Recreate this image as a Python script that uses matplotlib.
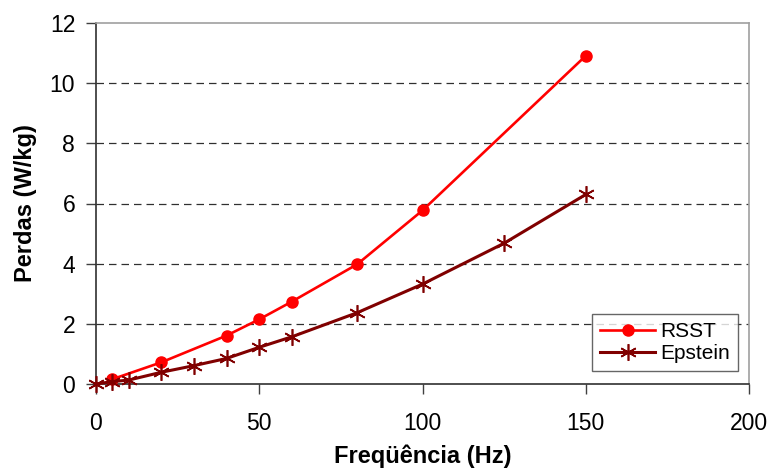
import matplotlib
matplotlib.use("Agg")
import matplotlib.pyplot as plt

plt.rcParams['font.family'] = ['Liberation Sans', 'DejaVu Sans']

# data
f_rsst = [5, 20, 40, 50, 60, 80, 100, 150]
p_rsst = [0.16, 0.72, 1.61, 2.15, 2.74, 3.98, 5.77, 10.91]

f_eps = [0, 5, 10, 20, 30, 40, 50, 60, 80, 100, 125, 150]
p_eps = [0.0, 0.08, 0.13, 0.39, 0.61, 0.85, 1.22, 1.57, 2.37, 3.32, 4.68, 6.3]

x_ticks = [0, 50, 100, 150, 200]
y_ticks = [0, 2, 4, 6, 8, 10, 12]

fig = plt.figure(figsize=(7.74, 4.70), dpi=100)
ax = fig.add_axes([96/774, 1-384/470, (749-96)/774, (384-23)/470])

ax.plot(f_rsst, p_rsst, color='#ff0000', lw=1.9, marker='o', ms=8,
        label='RSST', zorder=3, clip_on=False)
ax.plot(f_eps, p_eps, color='#800000', lw=2.2, marker=(6, 2, 0), ms=12,
        mew=1.2, label='Epstein', zorder=4, clip_on=False)

ax.set_xlim(0, 200)
ax.set_ylim(0, 12)
ax.set_xticks(x_ticks)
ax.set_yticks(y_ticks)
ax.tick_params(labelsize=16.5, length=7, width=1, color='#404040')
ax.tick_params(axis='x', pad=13)
ax.tick_params(axis='y', pad=8)

for y in y_ticks[1:-1]:
    ax.axhline(y, color='#303030', lw=0.9, ls=(0, (6, 4)), zorder=1)

for s in ['left', 'bottom']:
    ax.spines[s].set_color('#303030')
    ax.spines[s].set_linewidth(1.2)
for s in ['top', 'right']:
    ax.spines[s].set_color('#a0a0a0')
    ax.spines[s].set_linewidth(1.2)

ax.set_xlabel('Freqüência (Hz)', fontsize=17, fontweight='bold', labelpad=7)
ax.set_ylabel('Perdas (W/kg)', fontsize=17, fontweight='bold', labelpad=9)

leg = ax.legend(loc='lower right', bbox_to_anchor=(0.983, 0.035), fontsize=15,
                frameon=True, fancybox=False, edgecolor='#404040',
                handlelength=2.6, handletextpad=0.25, borderpad=0.4,
                borderaxespad=0, labelspacing=0.15)
leg.get_frame().set_linewidth(1.0)

fig.savefig('out.png', dpi=100)
